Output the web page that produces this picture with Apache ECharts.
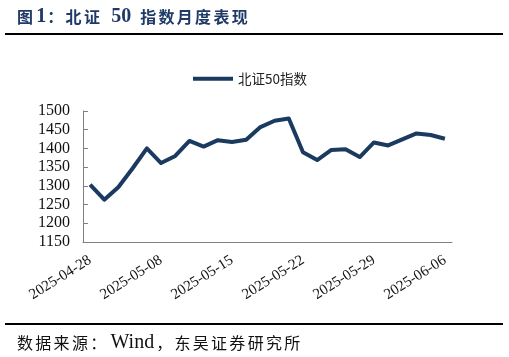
<!DOCTYPE html>
<html><head><meta charset="utf-8">
<script src="https://cdn.jsdelivr.net/npm/echarts@6/dist/echarts.min.js"></script>
<style>html,body{margin:0;padding:0;background:#fff}#c{width:509px;height:357px}</style>
</head><body><div id="c"></div>
<script>
var dates = ['2025-04-28','2025-04-29','2025-04-30','2025-05-06','2025-05-07','2025-05-08','2025-05-09','2025-05-12','2025-05-13','2025-05-14','2025-05-15','2025-05-16','2025-05-19','2025-05-20','2025-05-21','2025-05-22','2025-05-23','2025-05-26','2025-05-27','2025-05-28','2025-05-29','2025-05-30','2025-06-03','2025-06-04','2025-06-05','2025-06-06'];
var values = [1303,1263,1297,1347,1400,1361,1380,1420,1405,1422,1417,1423,1457,1474,1480,1390,1369,1396,1398,1377,1416,1408,1424,1440,1436,1426];
var seriesName = '北证50指数';
var yMin = 1150, yMax = 1500, yStep = 50;
var titleText = '图1：北证 50 指数月度表现';
var sourceText = '数据来源：Wind，东吴证券研究所';

var serif = '"Liberation Serif","Times New Roman",serif';
var cjkFont = '"Noto Sans CJK SC",sans-serif';

// place text runs (layout only)
function run(str, x, yMid, opt, out) {
  var w = opt.bold ? 'bold ' : '';
  var ctx = document.createElement('canvas').getContext('2d');
  var i = 0;
  while (i < str.length) {
    var ch = str[i];
    if (ch === ' ') { x += opt.spaceAdv; i++; continue; }
    if (/[A-Za-z0-9]/.test(ch)) {
      var j = i; while (j < str.length && /[A-Za-z0-9]/.test(str[j])) j++;
      var seg = str.slice(i, j);
      var font = w + opt.latinSize + 'px ' + serif;
      out.push({type: 'text', x: x + opt.latinPad, y: yMid, style: {text: seg, font: font, fill: opt.fill, verticalAlign: 'middle'}});
      ctx.font = font;
      x += ctx.measureText(seg).width + opt.latinPad * 2;
      i = j;
    } else {
      out.push({type: 'text', x: x, y: yMid, style: {text: ch, font: w + opt.cjkSize + 'px ' + cjkFont, fill: opt.fill, verticalAlign: 'middle'}});
      x += opt.cjkAdv;
      i++;
    }
  }
  return out;
}

var g = [];
run(titleText, 17, 17, {cjkSize: 16, cjkAdv: 18.3, latinSize: 20, latinPad: 1, spaceAdv: 8, bold: true, fill: '#1F3A66'}, g);
run(sourceText, 17, 343, {cjkSize: 16, cjkAdv: 18.3, latinSize: 20, latinPad: 2, spaceAdv: 5, bold: false, fill: '#111'}, g);
g.push({type: 'rect', shape: {x: 5, y: 33, width: 498, height: 2}, style: {fill: '#000'}});
g.push({type: 'rect', shape: {x: 5, y: 323, width: 498, height: 2}, style: {fill: '#000'}});

var chart = echarts.init(document.getElementById('c'));
chart.setOption({
  animation: false,
  backgroundColor: '#fff',
  grid: {left: 83, right: 57, top: 111, bottom: 115},
  legend: {
    top: 67, left: 188, itemWidth: 40, itemHeight: 4, itemGap: 4,
    icon: 'rect',
    textStyle: {fontFamily: cjkFont, fontSize: 13.5, color: '#222'},
    data: [seriesName]
  },
  xAxis: {
    type: 'category', data: dates, boundaryGap: true,
    axisLine: {lineStyle: {color: '#808080', width: 1}},
    axisTick: {inside: true, length: 5, interval: function(i){return i % 5 === 4;}, lineStyle: {color: '#808080'}},
    axisLabel: {interval: function(i){return i % 5 === 0;}, rotate: 32, fontFamily: serif, fontSize: 15, color: '#111', margin: 17}
  },
  yAxis: {
    type: 'value', min: yMin, max: yMax, interval: yStep,
    splitLine: {show: false},
    axisLine: {show: true, lineStyle: {color: '#808080', width: 1}},
    axisTick: {show: true, inside: true, length: 5, lineStyle: {color: '#808080'}},
    axisLabel: {fontFamily: serif, fontSize: 16, color: '#111', margin: 13, formatter: function(v){return String(v);}}
  },
  series: [{
    name: seriesName, type: 'line', data: values, symbol: 'none',
    lineStyle: {color: '#1B3A60', width: 4, join: 'round'},
    itemStyle: {color: '#1B3A60'}
  }],
  graphic: g
});
</script></body></html>
